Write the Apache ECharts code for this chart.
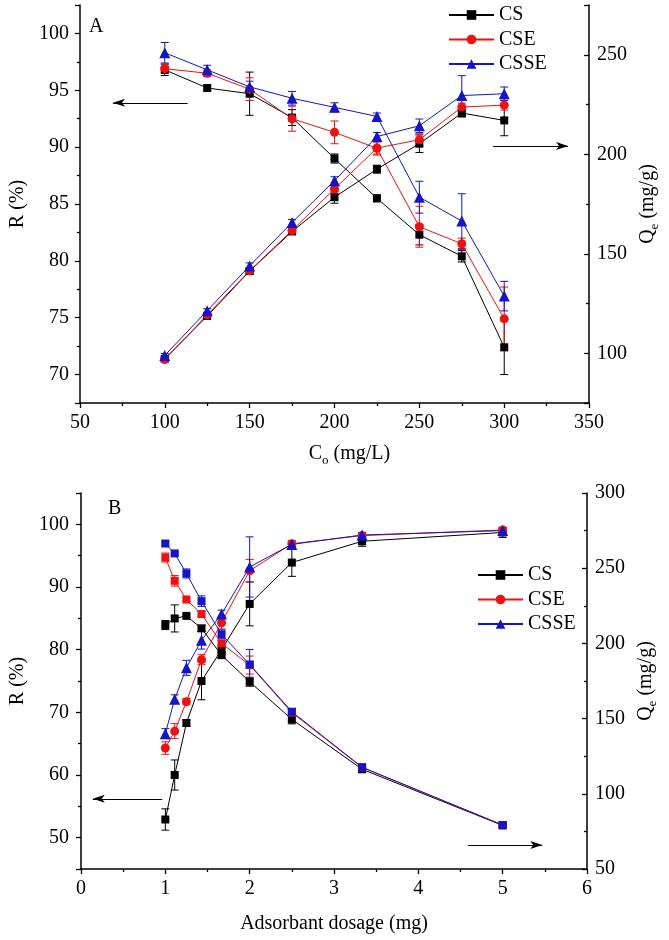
<!DOCTYPE html>
<html><head><meta charset="utf-8">
<script src="https://cdn.jsdelivr.net/npm/echarts@6/dist/echarts.min.js"></script>
<style>html,body{margin:0;padding:0;background:#fff}#c{width:669px;height:940px}</style>
</head><body><div id="c"></div><script>
// ---------- Panel A data ----------
const concA = [100, 125, 150, 175, 200, 225, 250, 275, 300];
const A_R_CS   = [96.8, 95.2, 94.7, 92.6, 89.0, 85.5, 82.3, 80.4, 72.4];
const A_R_CSE  = [96.9, 96.5, 95.1, 92.5, 91.3, 89.9, 83.0, 81.5, 74.9];
const A_R_CSSE = [98.3, 96.8, 95.3, 94.3, 93.5, 92.7, 85.6, 83.5, 76.9];
const A_R_CS_err   = [0.5, 0.2, 1.9, 0.7, 0.4, 0.3, 0.9, 0.5, 2.4];
const A_R_CSE_err  = [0.4, 0.3, 1.0, 1.1, 1.0, 0.6, 1.8, 0.5, 2.8];
const A_R_CSSE_err = [0.9, 0.4, 0.5, 0.6, 0.4, 0.3, 1.4, 2.4, 1.3];
const A_Q_CS   = [97.2, 118.7, 141.3, 161.2, 178.4, 192.5, 205.3, 220.7, 217.0];
const A_Q_CSE  = [96.8, 119.3, 141.5, 161.7, 182.6, 203.1, 207.3, 223.7, 224.7];
const A_Q_CSSE = [98.9, 121.4, 143.9, 165.7, 186.7, 208.9, 214.3, 229.5, 230.4];
const A_Q_CS_err   = [1, 1, 1.5, 1.5, 3, 2, 4.4, 2, 7.7];
const A_Q_CSE_err  = [1, 1, 1.5, 1.5, 2, 3, 3, 2, 2.5];
const A_Q_CSSE_err = [1, 1, 1.5, 1.5, 2, 2, 3.4, 10, 3.4];
// ---------- Panel B data ----------
const doseB = [1, 1.111, 1.25, 1.429, 1.667, 2, 2.5, 3.333, 5];
const B_R_CS   = [52.9, 60.0, 68.3, 75.0, 80.0, 87.3, 93.9, 97.3, 98.7];
const B_R_CSE  = [64.3, 67.0, 71.7, 78.4, 84.3, 92.6, 96.9, 98.2, 99.1];
const B_R_CSSE = [66.6, 72.1, 77.1, 81.5, 85.7, 93.2, 96.8, 98.3, 99.0];
const B_R_CS_err   = [1.7, 2.4, 0.5, 3.0, 0.8, 3.5, 2.2, 0.8, 0.8];
const B_R_CSE_err  = [1.0, 1.2, 0.5, 0.8, 1.0, 1.8, 0.5, 0.4, 0.4];
const B_R_CSSE_err = [0.8, 0.7, 1.2, 1.4, 0.6, 4.8, 0.4, 0.4, 0.4];
const B_Q_CS   = [212.2, 216.6, 218.3, 210.0, 192.2, 174.5, 149.5, 116.3, 79.0];
const B_Q_CSE  = [257.1, 241.6, 229.2, 219.5, 200.0, 185.6, 154.0, 117.5, 79.2];
const B_Q_CSSE = [266.4, 259.8, 246.5, 228.1, 206.0, 186.0, 154.6, 117.7, 79.2];
const B_Q_CS_err   = [3, 9, 1, 2, 2, 3, 3, 2, 1];
const B_Q_CSE_err  = [3, 3.5, 1, 2, 2, 6, 2, 1, 1];
const B_Q_CSSE_err = [1.5, 1, 3, 3.5, 3, 10, 2, 1, 1];
const seriesNames = ['CS', 'CSE', 'CSSE'];

// ---------- styling ----------
const FONT = 'Liberation Serif';
const COL = {CS: '#000000', CSE: '#ee1111', CSSE: '#1414c8'};
const SYMSIZE = {rect: 8, circle: 9, triangle: 11};

function pairs(xs, ys) { return xs.map((x, i) => [x, ys[i]]); }
function errs(xs, ys, es) { return xs.map((x, i) => [x, ys[i] - es[i], ys[i] + es[i]]); }

function lineSeries(name, xs, ys, xi, yi, symbol, extra) {
  const s = {
    type: 'line', name: name, xAxisIndex: xi, yAxisIndex: yi,
    data: pairs(xs, ys), symbol: symbol, symbolSize: SYMSIZE[symbol],
    showSymbol: true, z: 3,
    lineStyle: {color: COL[name], width: 1},
    itemStyle: {color: COL[name], borderWidth: 0},
    emphasis: {disabled: true}, animation: false
  };
  return Object.assign(s, extra || {});
}
function errRender(params, api) {
  const x = api.value(0), lo = api.value(1), hi = api.value(2);
  const p1 = api.coord([x, hi]), p2 = api.coord([x, lo]);
  const w = 4;
  const st = {stroke: api.visual('color'), lineWidth: 1};
  return {type: 'group', children: [
    {type: 'line', shape: {x1: p1[0], y1: p1[1], x2: p2[0], y2: p2[1]}, style: st},
    {type: 'line', shape: {x1: p1[0] - w, y1: p1[1], x2: p1[0] + w, y2: p1[1]}, style: st},
    {type: 'line', shape: {x1: p2[0] - w, y1: p2[1], x2: p2[0] + w, y2: p2[1]}, style: st}
  ]};
}
function errSeries(name, xs, ys, es, xi, yi) {
  return {type: 'custom', name: name + ' err', xAxisIndex: xi, yAxisIndex: yi,
    data: errs(xs, ys, es), encode: {x: 0, y: [1, 2]}, renderItem: errRender,
    itemStyle: {color: COL[name]}, z: 2, silent: true, animation: false};
}
function multipleFmt(m) { return v => (Math.abs(v / m - Math.round(v / m)) < 1e-6 ? String(Math.round(v)) : ''); }

function axisCommon(inside, margin) {
  return {
    axisLine: {show: true, onZero: false, lineStyle: {color: '#000', width: 1.5}},
    axisTick: {show: true, inside: inside, length: 5, lineStyle: {color: '#000', width: 1.3}},
    minorTick: {show: true, splitNumber: 2, length: 3, lineStyle: {color: '#000', width: 1.3}},
    splitLine: {show: false}, minorSplitLine: {show: false},
    axisLabel: {color: '#000', fontFamily: FONT, fontSize: 20, margin: margin},
    nameTextStyle: {color: '#000', fontFamily: FONT, fontSize: 20}
  };
}
const richQ = {
  n: {fontFamily: FONT, fontSize: 20, color: '#000', verticalAlign: 'middle'},
  s: {fontFamily: FONT, fontSize: 13, color: '#000', verticalAlign: 'bottom', padding: [13, 0, 0, 0]}
};

const xAxes = [
  Object.assign(axisCommon(false, 10), {gridIndex: 0, type: 'value', min: 50, max: 350, interval: 50,
    name: '{n|C}{s|o}{n| (mg/L)}', nameLocation: 'middle', nameGap: 38,
    nameTextStyle: {fontFamily: FONT, rich: richQ, padding: [0, 0, 0, 30]}}),
  Object.assign(axisCommon(false, 10), {gridIndex: 1, type: 'value', min: 0, max: 6, interval: 1,
    name: 'Adsorbant dosage (mg)', nameLocation: 'middle', nameGap: 45})
];
const yAxes = [
  Object.assign(axisCommon(false, 11), {gridIndex: 0, type: 'value', position: 'left', min: 67.5, max: 102.5, splitNumber: 7,
    name: 'R (%)', nameLocation: 'middle', nameGap: 40, nameRotate: 90}),
  Object.assign(axisCommon(true, 8), {gridIndex: 0, type: 'value', position: 'right', min: 75, max: 275, splitNumber: 4,
    name: '{n|Q}{s|e}{n| (mg/g)}', nameLocation: 'middle', nameGap: 40, nameRotate: 90,
    nameTextStyle: {fontFamily: FONT, rich: richQ}}),
  Object.assign(axisCommon(false, 12), {gridIndex: 1, type: 'value', position: 'left', min: 45, max: 105, splitNumber: 5,
    name: 'R (%)', nameLocation: 'middle', nameGap: 40, nameRotate: 90}),
  Object.assign(axisCommon(true, 8), {gridIndex: 1, type: 'value', position: 'right', min: 50, max: 300, interval: 50,
    name: '{n|Q}{s|e}{n| (mg/g)}', nameLocation: 'middle', nameGap: 42, nameRotate: 90,
    nameTextStyle: {fontFamily: FONT, rich: richQ}})
];
yAxes[0].axisLabel.formatter = multipleFmt(5);
yAxes[1].axisLabel.formatter = multipleFmt(50);
yAxes[2].axisLabel.formatter = multipleFmt(10);

const arrowML = (from, to) => ({
  silent: true, symbol: ['none', 'arrow'], symbolSize: [6, 12], animation: false,
  label: {show: false}, lineStyle: {color: '#000', width: 1, type: 'solid'},
  data: [[{coord: from}, {coord: to}]]
});

const series = [
  lineSeries('CS', concA, A_R_CS, 0, 0, 'rect', {markLine: arrowML([113.5, 93.9], [69.5, 93.9])}),
  lineSeries('CSE', concA, A_R_CSE, 0, 0, 'circle'),
  lineSeries('CSSE', concA, A_R_CSSE, 0, 0, 'triangle'),
  lineSeries('CS', concA, A_Q_CS, 0, 1, 'rect', {markLine: arrowML([293.3, 204.2], [337.6, 204.2])}),
  lineSeries('CSE', concA, A_Q_CSE, 0, 1, 'circle'),
  lineSeries('CSSE', concA, A_Q_CSSE, 0, 1, 'triangle'),
  lineSeries('CS', doseB, B_R_CS, 1, 2, 'rect', {markLine: arrowML([0.963, 56.2], [0.14, 56.2])}),
  lineSeries('CSE', doseB, B_R_CSE, 1, 2, 'circle'),
  lineSeries('CSSE', doseB, B_R_CSSE, 1, 2, 'triangle'),
  lineSeries('CS', doseB, B_Q_CS, 1, 3, 'rect', {markLine: arrowML([4.59, 66], [5.47, 66])}),
  lineSeries('CSE', doseB, B_Q_CSE, 1, 3, 'rect'),
  lineSeries('CSSE', doseB, B_Q_CSSE, 1, 3, 'rect'),
  errSeries('CS', concA, A_R_CS, A_R_CS_err, 0, 0),
  errSeries('CSE', concA, A_R_CSE, A_R_CSE_err, 0, 0),
  errSeries('CSSE', concA, A_R_CSSE, A_R_CSSE_err, 0, 0),
  errSeries('CS', concA, A_Q_CS, A_Q_CS_err, 0, 1),
  errSeries('CSE', concA, A_Q_CSE, A_Q_CSE_err, 0, 1),
  errSeries('CSSE', concA, A_Q_CSSE, A_Q_CSSE_err, 0, 1),
  errSeries('CS', doseB, B_R_CS, B_R_CS_err, 1, 2),
  errSeries('CSE', doseB, B_R_CSE, B_R_CSE_err, 1, 2),
  errSeries('CSSE', doseB, B_R_CSSE, B_R_CSSE_err, 1, 2),
  errSeries('CS', doseB, B_Q_CS, B_Q_CS_err, 1, 3),
  errSeries('CSE', doseB, B_Q_CSE, B_Q_CSE_err, 1, 3),
  errSeries('CSSE', doseB, B_Q_CSSE, B_Q_CSSE_err, 1, 3)
];

const legendCommon = {
  data: seriesNames, orient: 'vertical', itemWidth: 45, itemHeight: 12, itemGap: 4.5, padding: 0,
  selectedMode: false, textStyle: {color: '#000', fontFamily: FONT, fontSize: 20, lineHeight: 20}
};

const option = {
  animation: false,
  backgroundColor: '#fff',
  textStyle: {fontFamily: FONT},
  grid: [
    {left: 65, top: 5, width: 534, height: 398},
    {left: 81, top: 493, width: 506, height: 376}
  ],
  xAxis: xAxes,
  yAxis: yAxes,
  legend: [
    Object.assign({}, legendCommon, {left: 448, top: 5}),
    Object.assign({}, legendCommon, {left: 477, top: 565})
  ],
  graphic: [
    {type: 'text', left: 89, top: 17, style: {text: 'A', fontFamily: FONT, fontSize: 20, fill: '#000'}},
    {type: 'text', left: 108, top: 499, style: {text: 'B', fontFamily: FONT, fontSize: 20, fill: '#000'}}
  ],
  series: series
};
const chart = echarts.init(document.getElementById('c'), null, {renderer: 'canvas'});
chart.setOption(option);
</script></body></html>
